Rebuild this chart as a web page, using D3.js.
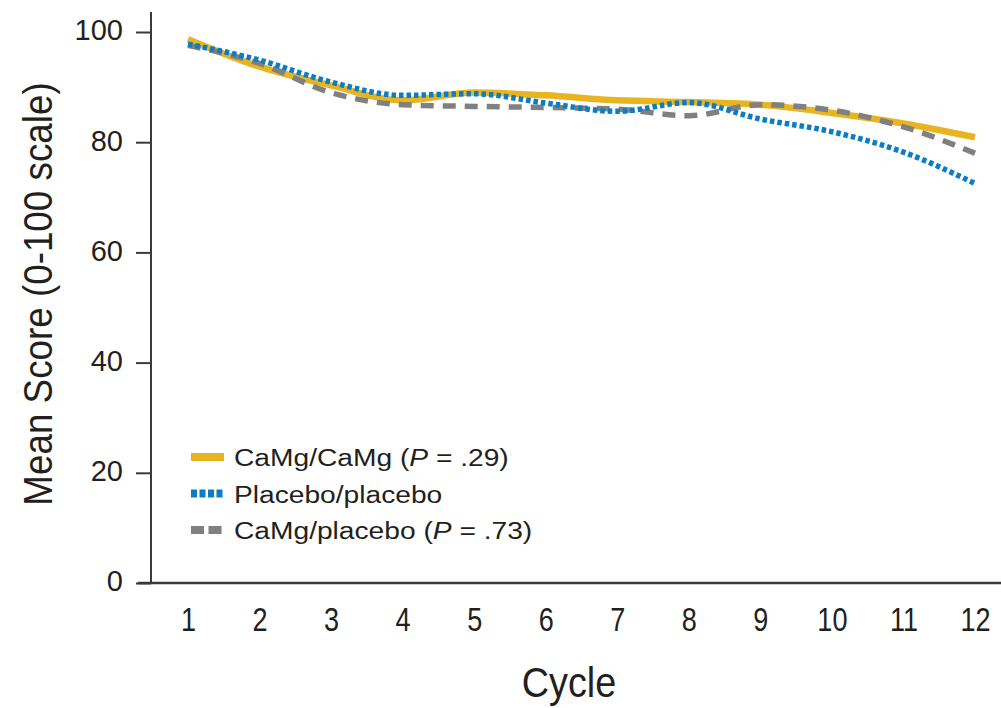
<!DOCTYPE html>
<html>
<head>
<meta charset="utf-8">
<script src="https://cdn.jsdelivr.net/npm/d3@7"></script>
<style>
  body { margin: 0; background: #fff; }
  svg { display: block; }
</style>
</head>
<body>
<div id="chart"></div>
<script>
(function () {
  // Data
  const cycles = [1, 2, 3, 4, 5, 6, 7, 8, 9, 10, 11, 12];
  const camgCamg = [98.7, 93.7, 90.3, 87.6, 89.0, 88.5, 87.6, 87.3, 86.8, 85.3, 83.4, 80.9];
  const placebo = [97.8, 94.9, 90.9, 88.5, 88.8, 87.1, 85.6, 87.2, 84.2, 81.9, 78.2, 72.5];
  const camgPlacebo = [97.6, 94.3, 89.0, 86.8, 86.5, 86.3, 86.0, 84.8, 86.8, 85.8, 82.8, 78.0];
  const yTicks = [0, 20, 40, 60, 80, 100];

  const series = [
    { name: "CaMg/CaMg", p: ".29", values: camgCamg, color: "#e8b521", width: 6.5, dash: null, legendDash: null },
    { name: "Placebo/placebo", p: null, values: placebo, color: "#0b7cc6", width: 5.5, dash: "4.5,3", legendDash: "6,2.5" },
    { name: "CaMg/placebo", p: ".73", values: camgPlacebo, color: "#808080", width: 5.5, dash: "13,9", legendDash: "13,4.5" }
  ];

  const W = 1001, H = 708;
  const font = "'Liberation Sans', Arial, Helvetica, sans-serif";
  const ink = "#231f20";

  const x = d3.scaleLinear().domain([1, 12]).range([188, 975]);
  const y = d3.scaleLinear().domain([0, 100]).range([583, 32]);

  const svg = d3.select("#chart").append("svg")
      .attr("width", W)
      .attr("height", H)
      .style("font-family", font);

  // Y axis
  const yAxis = svg.append("g")
      .attr("transform", "translate(151,0)")
      .call(d3.axisLeft(y).tickValues(yTicks).tickSize(15));
  yAxis.select(".domain").remove();
  yAxis.selectAll(".tick line").attr("stroke", "#3a3a3a").attr("stroke-width", 2);
  yAxis.selectAll(".tick text")
      .attr("x", 0)
      .attr("dy", "0.34em")
      .attr("transform", "translate(-28,-2)")
      .attr("fill", ink)
      .style("font-size", "29px");

  svg.append("line")
      .attr("x1", 151).attr("x2", 151)
      .attr("y1", 12).attr("y2", y(0) + 1)
      .attr("stroke", "#3a3a3a").attr("stroke-width", 2);

  // X axis
  const xAxis = svg.append("g")
      .attr("transform", `translate(0,${y(0)})`)
      .call(d3.axisBottom(x).tickValues(cycles).tickSize(0));
  xAxis.select(".domain").remove();
  xAxis.selectAll(".tick text")
      .attr("y", 0)
      .attr("dy", null)
      .attr("transform", "translate(0,48) scale(0.82,1)")
      .attr("fill", ink)
      .style("font-size", "33px");

  svg.append("line")
      .attr("x1", 138).attr("x2", W)
      .attr("y1", y(0)).attr("y2", y(0))
      .attr("stroke", "#3a3a3a").attr("stroke-width", 2.5);

  // Lines
  const line = d3.line()
      .x((d, i) => x(cycles[i]))
      .y(d => y(d))
      .curve(d3.curveMonotoneX);

  [series[0], series[2], series[1]].forEach(s => {
    svg.append("path")
        .datum(s.values)
        .attr("fill", "none")
        .attr("stroke", s.color)
        .attr("stroke-width", s.width)
        .attr("stroke-dasharray", s.dash)
        .attr("d", line);
  });

  // Legend
  const legend = svg.append("g").attr("transform", "translate(191,457)");
  series.forEach((s, i) => {
    const row = legend.append("g").attr("transform", `translate(0,${i * 36.5})`);
    row.append("line")
        .attr("x1", 0).attr("x2", 33)
        .attr("y1", 0).attr("y2", 0)
        .attr("stroke", s.color)
        .attr("stroke-width", 8)
        .attr("stroke-dasharray", s.legendDash);
    const t = row.append("text")
        .attr("transform", "translate(43,9) scale(1.15,1)")
        .attr("fill", ink)
        .style("font-size", "24.5px")
        .text(s.name);
    if (s.p) {
      t.append("tspan").text(" (");
      t.append("tspan").style("font-style", "italic").text("P");
      t.append("tspan").text(" = " + s.p + ")");
    }
  });

  // Axis titles
  svg.append("text")
      .attr("transform", "translate(569,697) scale(0.9,1)")
      .attr("text-anchor", "middle")
      .attr("fill", ink)
      .style("font-size", "42px")
      .text("Cycle");

  svg.append("text")
      .attr("transform", "translate(52,294) rotate(-90) scale(0.92,1)")
      .attr("text-anchor", "middle")
      .attr("fill", ink)
      .style("font-size", "40px")
      .text("Mean Score (0-100 scale)");
})();
</script>
</body>
</html>
